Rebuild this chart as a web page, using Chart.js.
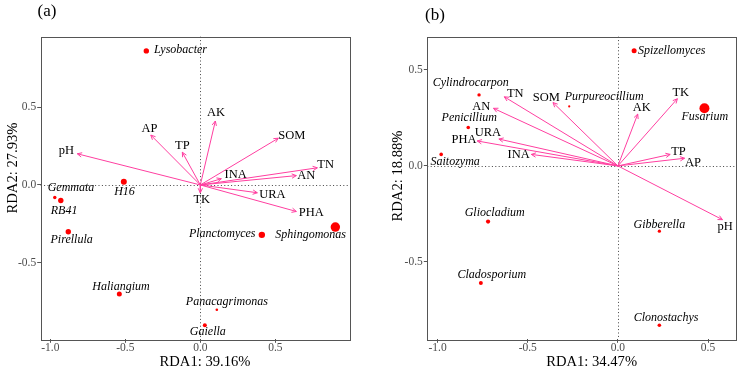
<!DOCTYPE html>
<html>
<head>
<meta charset="utf-8">
<script src="https://cdn.jsdelivr.net/npm/chart.js@4.4.1/dist/chart.umd.min.js"></script>
<style>
body { margin: 0; background: #fff; }
.panel { position: absolute; top: 0; }
</style>
</head>
<body>
<div class="panel" style="left:0"><canvas id="chartA" width="370" height="371"></canvas></div>
<div class="panel" style="left:370px"><canvas id="chartB" width="371" height="371"></canvas></div>
<script>
// ---- panel (a): bacteria ----
const generaA = ['Lysobacter', 'H16', 'Gemmata', 'RB41', 'Pirellula', 'Haliangium', 'Panacagrimonas', 'Gaiella', 'Planctomyces', 'Sphingomonas']
const rda1A = [-0.36, -0.51, -0.97, -0.93, -0.88, -0.54, 0.11, 0.03, 0.41, 0.90]
const rda2A = [0.86, 0.02, -0.08, -0.10, -0.30, -0.70, -0.80, -0.90, -0.32, -0.27]
const envA = ['pH', 'AP', 'TP', 'AK', 'SOM', 'TN', 'AN', 'INA', 'URA', 'PHA', 'TK']
const envRda1A = [-0.82, -0.33, -0.12, 0.10, 0.52, 0.78, 0.64, 0.14, 0.38, 0.64, 0.0]
const envRda2A = [0.20, 0.32, 0.21, 0.41, 0.30, 0.11, 0.06, 0.04, -0.05, -0.17, -0.05]

// ---- panel (b): fungi ----
const generaB = ['Spizellomyces', 'Cylindrocarpon', 'Purpureocillium', 'Fusarium', 'Penicillium', 'Saitozyma', 'Gliocladium', 'Gibberella', 'Cladosporium', 'Clonostachys']
const rda1B = [0.09, -0.77, -0.27, 0.48, -0.83, -0.98, -0.72, 0.23, -0.76, 0.23]
const rda2B = [0.60, 0.37, 0.31, 0.30, 0.20, 0.06, -0.29, -0.34, -0.61, -0.83]
const envB = ['TN', 'AN', 'SOM', 'URA', 'PHA', 'INA', 'AK', 'TK', 'TP', 'AP', 'pH']
const envRda1B = [-0.63, -0.69, -0.36, -0.66, -0.78, -0.48, 0.11, 0.33, 0.29, 0.37, 0.58]
const envRda2B = [0.36, 0.30, 0.33, 0.14, 0.13, 0.06, 0.27, 0.35, 0.06, 0.04, -0.28]

const xTicks = [-1.0, -0.5, 0.0, 0.5]
const yTicks = [-0.5, 0.0, 0.5]

// point radii (abundance) and label placement, style only
const radiusA = [2.7, 3, 1.7, 2.7, 2.7, 2.5, 1.3, 2, 3.2, 4.7]
const radiusB = [2.5, 1.7, 1.1, 5, 1.8, 1.8, 2.1, 1.6, 2, 1.8]
const genusLabelA = [[7.7, -0.7, 'left'], [0.7, 10.3], [16.2, -10], [3.3, 10], [3.3, 8], [1.7, -7.3], [10, -7.7], [3, 6.3], [-6.3, -0.7, 'right'], [-24.7, 7.3]]
const envLabelA = [[-11, -2.6], [-1.4, -6.7], [0, -6.7], [0.7, -8], [13.4, -2], [8.3, -3.3], [10, 0], [14.3, -4], [15, 1.7], [15, 1], [1.4, 6.7]]
const genusLabelB = [[4, 0, 'left'], [-8.3, -11.7], [35, -9.6], [0.3, 8.6], [1, -9.3], [14, 7.3], [6.6, -8.4], [0, -6.7], [11, -8], [6.7, -7.6]]
const envLabelB = [[11, -3.3], [-12.3, -2], [-6.6, -5], [-11, -6.6], [-13.3, -1], [-12.7, 0], [4, -6], [3.4, -5.7], [8.3, -2.7], [8.3, 4.4], [2.7, 6.7]]

const pink = '#ff3fa0'
const serif = '"Liberation Serif", "Times New Roman", serif'

function makePanel (canvasId, cfg) {
  const datasets = cfg.env.map((name, i) => ({
    type: 'line',
    label: name,
    data: [{ x: 0, y: 0 }, { x: cfg.envX[i], y: cfg.envY[i] }],
    borderColor: pink,
    borderWidth: 1,
    pointRadius: 0,
    fill: false
  }))
  datasets.push({
    type: 'scatter',
    label: 'genera',
    data: cfg.genera.map((g, i) => ({ x: cfg.genX[i], y: cfg.genY[i] })),
    pointRadius: cfg.radius,
    pointBackgroundColor: '#ff0000',
    pointBorderWidth: 0
  })

  const rdaPlugin = {
    id: 'rda',
    beforeDatasetsDraw (chart) {
      const { ctx, chartArea: a, scales: { x, y } } = chart
      ctx.save()
      ctx.strokeStyle = '#444'
      ctx.lineWidth = 1
      ctx.setLineDash([1, 2.4])
      const px = Math.round(x.getPixelForValue(0)) + 0.5
      const py = Math.round(y.getPixelForValue(0)) + 0.5
      ctx.beginPath()
      ctx.moveTo(px, a.top); ctx.lineTo(px, a.bottom)
      ctx.moveTo(a.left, py); ctx.lineTo(a.right, py)
      ctx.stroke()
      ctx.restore()
    },
    afterDatasetsDraw (chart) {
      const { ctx, chartArea: a, scales: { x, y } } = chart
      ctx.save()
      // arrow heads
      ctx.strokeStyle = pink
      ctx.lineWidth = 1
      const ox = x.getPixelForValue(0)
      const oy = y.getPixelForValue(0)
      cfg.env.forEach((name, i) => {
        const tx = x.getPixelForValue(cfg.envX[i])
        const ty = y.getPixelForValue(cfg.envY[i])
        const ang = Math.atan2(ty - oy, tx - ox)
        ctx.beginPath()
        ctx.moveTo(tx - 5 * Math.cos(ang - 0.45), ty - 5 * Math.sin(ang - 0.45))
        ctx.lineTo(tx, ty)
        ctx.lineTo(tx - 5 * Math.cos(ang + 0.45), ty - 5 * Math.sin(ang + 0.45))
        ctx.stroke()
      })
      // frame
      ctx.strokeStyle = '#555'
      ctx.strokeRect(Math.round(a.left) + 0.5, Math.round(a.top) + 0.5, Math.round(a.right - a.left), Math.round(a.bottom - a.top))
      // labels
      ctx.fillStyle = '#000'
      ctx.textBaseline = 'middle'
      ctx.font = 'italic 12px ' + serif
      cfg.genera.forEach((g, i) => {
        const [dx, dy, align] = cfg.genusLabel[i]
        ctx.textAlign = align || 'center'
        ctx.fillText(g, x.getPixelForValue(cfg.genX[i]) + dx, y.getPixelForValue(cfg.genY[i]) + dy)
      })
      ctx.font = '12.5px ' + serif
      ctx.textAlign = 'center'
      cfg.env.forEach((name, i) => {
        const [dx, dy] = cfg.envLabel[i]
        ctx.fillText(name, x.getPixelForValue(cfg.envX[i]) + dx, y.getPixelForValue(cfg.envY[i]) + dy)
      })
      // axis titles and panel tag
      ctx.font = '14.6px ' + serif
      ctx.fillText(cfg.xTitle, (a.left + a.right) / 2 + 10, 361.7)
      ctx.save()
      ctx.translate(cfg.yTitleX, (a.top + a.bottom) / 2 + cfg.yTitleShift)
      ctx.rotate(-Math.PI / 2)
      ctx.fillText(cfg.yTitle, 0, 0)
      ctx.restore()
      ctx.font = '17px ' + serif
      ctx.fillText(cfg.tag, cfg.tagPos[0], cfg.tagPos[1])
      ctx.restore()
    }
  }

  const tickOpts = {
    color: '#4d4d4d',
    font: { family: serif, size: 11.5 },
    padding: -1.5,
    callback: v => v.toFixed(1)
  }
  const gridOpts = { drawOnChartArea: false, drawTicks: true, tickLength: 3.5, tickColor: '#555', lineWidth: 1 }

  return new Chart(document.getElementById(canvasId), {
    type: 'scatter',
    data: { datasets },
    options: {
      responsive: false,
      animation: false,
      devicePixelRatio: 1,
      layout: { padding: cfg.padding },
      plugins: { legend: { display: false }, tooltip: { enabled: false } },
      scales: {
        x: {
          type: 'linear',
          min: cfg.xRange[0],
          max: cfg.xRange[1],
          afterBuildTicks: s => { s.ticks = xTicks.map(v => ({ value: v })) },
          afterFit: s => { s.height = cfg.xHeight },
          ticks: tickOpts,
          grid: gridOpts,
          border: { display: false }
        },
        y: {
          type: 'linear',
          min: cfg.yRange[0],
          max: cfg.yRange[1],
          afterBuildTicks: s => { s.ticks = yTicks.map(v => ({ value: v })) },
          afterFit: s => { s.width = cfg.yWidth },
          ticks: { ...tickOpts, padding: 1 },
          grid: gridOpts,
          border: { display: false }
        }
      }
    },
    plugins: [rdaPlugin]
  })
}

makePanel('chartA', {
  genera: generaA, genX: rda1A, genY: rda2A,
  env: envA, envX: envRda1A, envY: envRda2A,
  radius: radiusA, genusLabel: genusLabelA, envLabel: envLabelA,
  xRange: [-1.064, 0.993], yRange: [-0.99, 0.951],
  xTitle: 'RDA1: 39.16%', yTitle: 'RDA2: 27.93%',
  padding: { top: 36.7, right: 20.7, bottom: 0, left: 0 },
  xHeight: 31.7, yWidth: 40.7, yTitleX: 12.7, yTitleShift: -20,
  tag: '(a)', tagPos: [47, 12]
})

makePanel('chartB', {
  genera: generaB, genX: rda1B, genY: rda2B,
  env: envB, envX: envRda1B, envY: envRda2B,
  radius: radiusB, genusLabel: genusLabelB, envLabel: envLabelB,
  xRange: [-1.057, 0.655], yRange: [-0.903, 0.673],
  xTitle: 'RDA1: 34.47%', yTitle: 'RDA2: 18.88%',
  padding: { top: 36.7, right: 4.3, bottom: 0, left: 0 },
  xHeight: 31.7, yWidth: 57.3, yTitleX: 28.3, yTitleShift: -12,
  tag: '(b)', tagPos: [65, 16]
})
</script>
</body>
</html>
